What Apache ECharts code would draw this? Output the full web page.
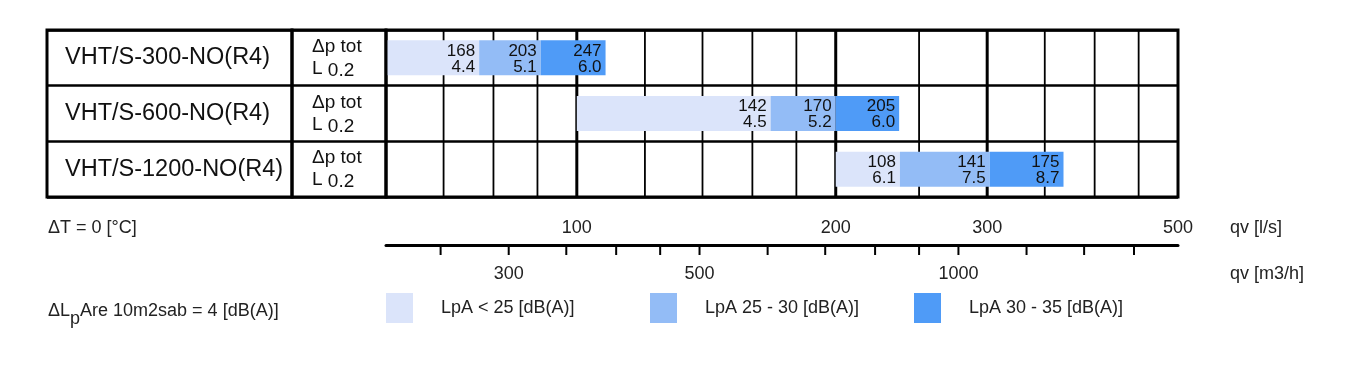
<!DOCTYPE html>
<html><head><meta charset="utf-8">
<script src="https://cdn.jsdelivr.net/npm/echarts@6/dist/echarts.min.js"></script>
<style>html,body{margin:0;padding:0;background:#fff}#c{width:1366px;height:377px}</style>
</head><body><div id="c"></div>
<script>
// ---- data ----
const models = ['VHT/S-300-NO(R4)', 'VHT/S-600-NO(R4)', 'VHT/S-1200-NO(R4)'];
const rowCaption = ['Δp tot', 'L', '0.2'];
const classNames = ['LpA < 25 [dB(A)]', 'LpA 25 - 30 [dB(A)]', 'LpA 30 - 35 [dB(A)]'];
const classColors = ['#dbe4fa', '#93bcf6', '#4f9bf7'];
// air flow bounds of each noise-class segment, l/s: [start, end <25, end 25-30, end 30-35]
const flow300 = [60, 77, 90.8, 108];
const flow600 = [100, 168, 200, 237];
const flow1200 = [200, 237.5, 302, 368];
// total pressure drop Δp tot [Pa] at each segment end
const dp300 = [168, 203, 247];
const dp600 = [142, 170, 205];
const dp1200 = [108, 141, 175];
// throw L0.2 [m] at each segment end
const throw300 = [4.4, 5.1, 6.0];
const throw600 = [4.5, 5.2, 6.0];
const throw1200 = [6.1, 7.5, 8.7];
// axes
const flowMin = 60, flowMax = 500;
const gridMinor = [70, 80, 90, 120, 140, 160, 180, 250, 350, 400, 450];
const gridMajor = [100, 200, 300];
const lsLabels = [100, 200, 300, 500];
const mhTicks = [250, 300, 350, 400, 450, 500, 600, 700, 800, 900, 1000, 1200, 1400, 1600];
const mhLabels = [300, 500, 1000];
const M3H_PER_LS = 3.6;

// ---- chart ----
const FONT = 'Liberation Sans, Arial, sans-serif';
const flows = [flow300, flow600, flow1200];
const dps = [dp300, dp600, dp1200];
const throws = [throw300, throw600, throw1200];

function renderSeg(params, api) {
  const row = api.value(0), x0 = api.value(1), x1 = api.value(2);
  const p0 = api.coord([x0, row]);
  const p1 = api.coord([x1, row]);
  const band = Math.abs(api.coord([x0, 1])[1] - api.coord([x0, 0])[1]);
  const h = band * 0.63;
  return {
    type: 'group',
    children: [
      { type: 'rect', shape: { x: p0[0], y: p0[1] - h / 2, width: p1[0] - p0[0], height: h },
        style: { fill: api.visual('color') } },
      { type: 'text', x: p1[0] - 4, y: p0[1] + 1,
        style: { text: api.value(3) + '\n' + Number(api.value(4)).toFixed(1), align: 'right',
                 verticalAlign: 'middle', fontSize: 17, fontFamily: FONT, lineHeight: 16, fill: '#111' } }
    ]
  };
}
function vLine(width) {
  return function (params, api) {
    const x = api.coord([api.value(0), 0])[0];
    const cs = params.coordSys;
    return { type: 'line', shape: { x1: x, y1: cs.y, x2: x, y2: cs.y + cs.height },
             style: { stroke: '#000', lineWidth: width } };
  };
}

const barSeries = classNames.map((name, k) => ({
  type: 'custom', name, xAxisIndex: 2, yAxisIndex: 2, z: 3,
  itemStyle: { color: classColors[k] },
  encode: { x: [1, 2], y: 0 },
  data: flows.map((f, r) => [r, f[k], f[k + 1], dps[r][k], throws[r][k]]),
  renderItem: renderSeg
}));

const gridSeries = [
  { type: 'custom', xAxisIndex: 2, yAxisIndex: 2, z: 1, silent: true, encode: { x: 0, y: 1 },
    data: gridMinor.map(v => [v, 0]), renderItem: vLine(1.8) },
  { type: 'custom', xAxisIndex: 2, yAxisIndex: 2, z: 1, silent: true, encode: { x: 0, y: 1 },
    data: gridMajor.map(v => [v, 0]), renderItem: vLine(3) }
];

const axisSeries = [
  { type: 'custom', xAxisIndex: 3, yAxisIndex: 3, silent: true, encode: { x: 0, y: 1 },
    data: lsLabels.map(v => [v, 0]),
    renderItem: (params, api) => {
      const x = api.coord([api.value(0), 0])[0];
      return { type: 'text', x: x, y: params.coordSys.y - 17,
        style: { text: String(api.value(0)), align: 'center', verticalAlign: 'middle',
                 fontSize: 18, fontFamily: FONT, fill: '#222' } };
    } },
  { type: 'custom', xAxisIndex: 3, yAxisIndex: 3, silent: true, encode: { x: 0, y: 1 },
    data: mhTicks.map(v => [v / M3H_PER_LS, 0]),
    renderItem: (params, api) => {
      const x = api.coord([api.value(0), 0])[0];
      const y = params.coordSys.y;
      return { type: 'line', shape: { x1: x, y1: y + 1, x2: x, y2: y + 10 },
               style: { stroke: '#000', lineWidth: 2 } };
    } },
  { type: 'custom', xAxisIndex: 3, yAxisIndex: 3, silent: true, encode: { x: 0, y: 1 },
    data: mhLabels.map(v => [v / M3H_PER_LS, 0, v]),
    renderItem: (params, api) => {
      const x = api.coord([api.value(0), 0])[0];
      return { type: 'text', x: x, y: params.coordSys.y + 29,
        style: { text: String(api.value(2)), align: 'center', verticalAlign: 'middle',
                 fontSize: 18, fontFamily: FONT, fill: '#222' } };
    } }
];

const hidden = { show: false };
const catY = (labelOpt, gridIndex) => ({
  type: 'category', gridIndex, data: models, inverse: true,
  axisLine: hidden, axisTick: hidden,
  splitLine: { show: true, lineStyle: { color: '#000', width: 2.5 } },
  axisLabel: labelOpt
});

const option = {
  animation: false,
  backgroundColor: '#fff',
  grid: [
    { left: 47, width: 245, top: 30, height: 167, show: true, borderColor: '#000', borderWidth: 3, backgroundColor: 'transparent' },
    { left: 292, width: 94, top: 30, height: 167, show: true, borderColor: '#000', borderWidth: 3, backgroundColor: 'transparent' },
    { left: 386, width: 792, top: 30, height: 167, show: true, borderColor: '#000', borderWidth: 3, backgroundColor: 'transparent', z: 10 },
    { left: 386, width: 792, top: 245, height: 40, show: false }
  ],
  xAxis: [
    { type: 'value', gridIndex: 0, show: false },
    { type: 'value', gridIndex: 1, show: false },
    { type: 'log', gridIndex: 2, logBase: 10, min: flowMin, max: flowMax,
      axisLine: hidden, axisTick: hidden, axisLabel: hidden, splitLine: hidden },
    { type: 'log', gridIndex: 3, logBase: 10, min: flowMin, max: flowMax, position: 'top',
      axisLine: { show: true, onZero: false, lineStyle: { color: '#000', width: 3 } },
      axisTick: hidden, axisLabel: hidden, splitLine: hidden }
  ],
  yAxis: [
    catY({ inside: true, margin: 18, fontSize: 23.5, fontFamily: FONT, color: '#111' }, 0),
    catY({ inside: true, margin: 20, fontSize: 19, fontFamily: FONT, color: '#111', lineHeight: 22,
           formatter: () => rowCaption[0] + '\n' + rowCaption[1] + ' {s|' + rowCaption[2] + '}',
           rich: { s: { fontSize: 19, fontFamily: FONT, color: '#111', lineHeight: 22, padding: [4, 0, 0, 0] } } }, 1),
    catY(hidden, 2),
    { type: 'value', gridIndex: 3, min: 0, max: 1, show: false }
  ],
  legend: classNames.map((n, k) => ({
    data: [n], left: [386, 650, 914][k], top: 293, padding: 0,
    itemWidth: 27, itemHeight: 30, icon: 'rect', selectedMode: false,
    textStyle: { fontSize: 18, fontFamily: FONT, color: '#222', padding: [4, 0, 0, 23] }
  })),
  graphic: [
    { type: 'text', x: 48, y: 228, style: { text: 'ΔT = 0 [°C]', fontSize: 18, fontFamily: FONT, fill: '#222', verticalAlign: 'middle' } },
    { type: 'text', x: 1230, y: 228, style: { text: 'qv [l/s]', fontSize: 18, fontFamily: FONT, fill: '#222', verticalAlign: 'middle' } },
    { type: 'text', x: 1230, y: 274, style: { text: 'qv [m3/h]', fontSize: 18, fontFamily: FONT, fill: '#222', verticalAlign: 'middle' } },
    { type: 'text', x: 48, y: 311, style: {
        text: '{n|ΔL}{p|p}{n|Are 10m2sab = 4 [dB(A)]}', verticalAlign: 'middle', lineHeight: 20,
        rich: { n: { fontSize: 18, fontFamily: FONT, fill: '#222' },
                p: { fontSize: 18, fontFamily: FONT, fill: '#222', padding: [16, 0, 0, 0] } } } }
  ],
  series: [...gridSeries, ...barSeries, ...axisSeries]
};

const chart = echarts.init(document.getElementById('c'), null, { renderer: 'canvas' });
chart.setOption(option);
</script>
</body></html>
